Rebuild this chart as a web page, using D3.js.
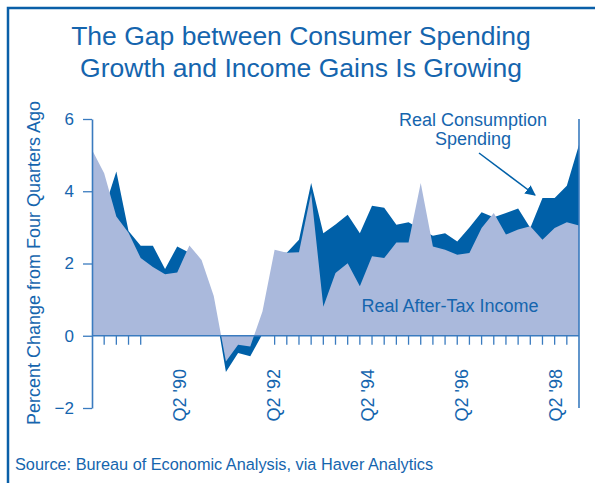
<!DOCTYPE html>
<html>
<head>
<meta charset="utf-8">
<script src="https://cdn.jsdelivr.net/npm/d3@7"></script>
<style>
  body { margin: 0; background: #fff; }
  svg text { font-family: "Liberation Sans", Arial, Helvetica, sans-serif; }
</style>
</head>
<body>
<div id="container"></div>
<script>
// quarterly % change from four quarters ago, Q3 '88 .. Q3 '98
const consumption = [4.9, 3.5, 4.55, 2.9, 2.49, 2.49, 1.85, 2.47, 2.3, 2.0, 1.0, -1.0, -0.48, -0.57, 0.05,
  2.3, 2.3, 2.66, 4.23, 2.84, 3.08, 3.35, 2.84, 3.6, 3.54, 3.07, 3.14, 2.95, 2.77, 2.84, 2.61,
  3.0, 3.42, 3.28, 3.4, 3.52, 2.98, 3.81, 3.81, 4.15, 5.29];
const income = [5.15, 4.5, 3.3, 2.85, 2.15, 1.9, 1.7, 1.75, 2.5, 2.1, 1.1, -0.71, -0.25, -0.3, 0.67,
  2.38, 2.3, 2.31, 3.95, 0.8, 1.74, 2.01, 1.37, 2.2, 2.15, 2.58, 2.58, 4.23, 2.47, 2.38, 2.24,
  2.29, 2.98, 3.4, 2.8, 2.94, 3.03, 2.66, 2.98, 3.14, 3.05];
const xLabels = ["Q2 '90", "Q2 '92", "Q2 '94", "Q2 '96", "Q2 '98"];
const yTicks = [-2, 0, 2, 4, 6];
// quarter tick marks that show under the zero line
const tickIdx = [1, 2, 3, 4].concat(d3.range(15, 40));

const w = 595, h = 483;
const dark = "#0060a8", light = "#aab9dc", ink = "#1565ae", axisCol = "#3a7bbf";

const x = d3.scaleLinear().domain([0, consumption.length - 1]).range([92, 579]);
const y = d3.scaleLinear().domain([-2, 6]).range([408, 119]);
const xl = d3.scalePoint().domain(xLabels).range([180, 556]);

const svg = d3.select("#container")
  .append("svg")
  .attr("width", w)
  .attr("height", h);

// frame
svg.append("rect")
  .attr("x", 8).attr("y", 8)
  .attr("width", 700).attr("height", 600)
  .attr("fill", "none")
  .attr("stroke", "#0a5fa8")
  .attr("stroke-width", 2.5);

// title
svg.append("text")
  .attr("x", 301).attr("y", 45)
  .attr("text-anchor", "middle")
  .style("font-size", "26.5px")
  .attr("fill", ink)
  .text("The Gap between Consumer Spending");
svg.append("text")
  .attr("x", 301).attr("y", 77)
  .attr("text-anchor", "middle")
  .style("font-size", "26.5px")
  .attr("fill", ink)
  .text("Growth and Income Gains Is Growing");

// areas: spending behind, income in front
const area = (vals) => d3.area()
  .x((d, i) => x(i))
  .y0(y(0))
  .y1((d) => y(d))(vals);

svg.append("path")
  .attr("d", area(consumption))
  .attr("fill", dark);
svg.append("path")
  .attr("d", area(income))
  .attr("fill", light);

// zero line + quarter ticks
svg.append("line")
  .attr("x1", x(0)).attr("x2", x(consumption.length - 1))
  .attr("y1", y(0)).attr("y2", y(0))
  .attr("stroke", axisCol).attr("stroke-width", 1.6);
svg.selectAll(".qtick")
  .data(tickIdx)
  .enter()
  .append("line")
  .attr("class", "qtick")
  .attr("x1", (d) => x(d)).attr("x2", (d) => x(d))
  .attr("y1", y(0)).attr("y2", y(0) + 9)
  .attr("stroke", axisCol).attr("stroke-width", 1.3);

// y axis
const yAxis = d3.axisLeft(y)
  .tickValues(yTicks)
  .tickSize(9)
  .tickSizeOuter(0)
  .tickPadding(9)
  .tickFormat(d3.format("d"));
const gy = svg.append("g")
  .attr("transform", "translate(" + x(0) + ",0)")
  .call(yAxis);
gy.select(".domain").attr("stroke", axisCol).attr("stroke-width", 1.6);
gy.selectAll(".tick line").attr("stroke", axisCol).attr("stroke-width", 1.3);
gy.selectAll(".tick text")
  .attr("fill", ink)
  .style("font-size", "17px");

// right edge line
svg.append("line")
  .attr("x1", x(consumption.length - 1)).attr("x2", x(consumption.length - 1))
  .attr("y1", y(6)).attr("y2", y(-2))
  .attr("stroke", axisCol).attr("stroke-width", 1.6);

// x labels
svg.selectAll(".xlab")
  .data(xLabels)
  .enter()
  .append("text")
  .attr("class", "xlab")
  .attr("transform", (d) => "translate(" + xl(d) + ",369) rotate(-90)")
  .attr("dy", "0.36em")
  .attr("text-anchor", "end")
  .attr("fill", ink)
  .style("font-size", "18px")
  .text((d) => d);

// y title
svg.append("text")
  .attr("transform", "translate(40,263) rotate(-90)")
  .attr("text-anchor", "middle")
  .attr("fill", ink)
  .style("font-size", "18px")
  .text("Percent Change from Four Quarters Ago");

// annotations
svg.append("text")
  .attr("x", 473).attr("y", 126)
  .attr("text-anchor", "middle")
  .attr("fill", ink)
  .style("font-size", "18px")
  .text("Real Consumption");
svg.append("text")
  .attr("x", 473).attr("y", 145)
  .attr("text-anchor", "middle")
  .attr("fill", ink)
  .style("font-size", "18px")
  .text("Spending");

svg.append("defs").append("marker")
  .attr("id", "head")
  .attr("viewBox", "0 0 10 10")
  .attr("refX", 9).attr("refY", 5)
  .attr("markerWidth", 7).attr("markerHeight", 7)
  .attr("orient", "auto")
  .append("path")
  .attr("d", "M0,0L10,5L0,10z")
  .attr("fill", dark);
svg.append("line")
  .attr("x1", 479).attr("y1", 153)
  .attr("x2", 535).attr("y2", 195)
  .attr("stroke", dark).attr("stroke-width", 1.5)
  .attr("marker-end", "url(#head)");

svg.append("text")
  .attr("x", 450).attr("y", 312)
  .attr("text-anchor", "middle")
  .attr("fill", ink)
  .style("font-size", "18px")
  .text("Real After-Tax Income");

// source
svg.append("text")
  .attr("x", 15).attr("y", 470)
  .attr("fill", ink)
  .style("font-size", "16.3px")
  .text("Source: Bureau of Economic Analysis, via Haver Analytics");
</script>
</body>
</html>
